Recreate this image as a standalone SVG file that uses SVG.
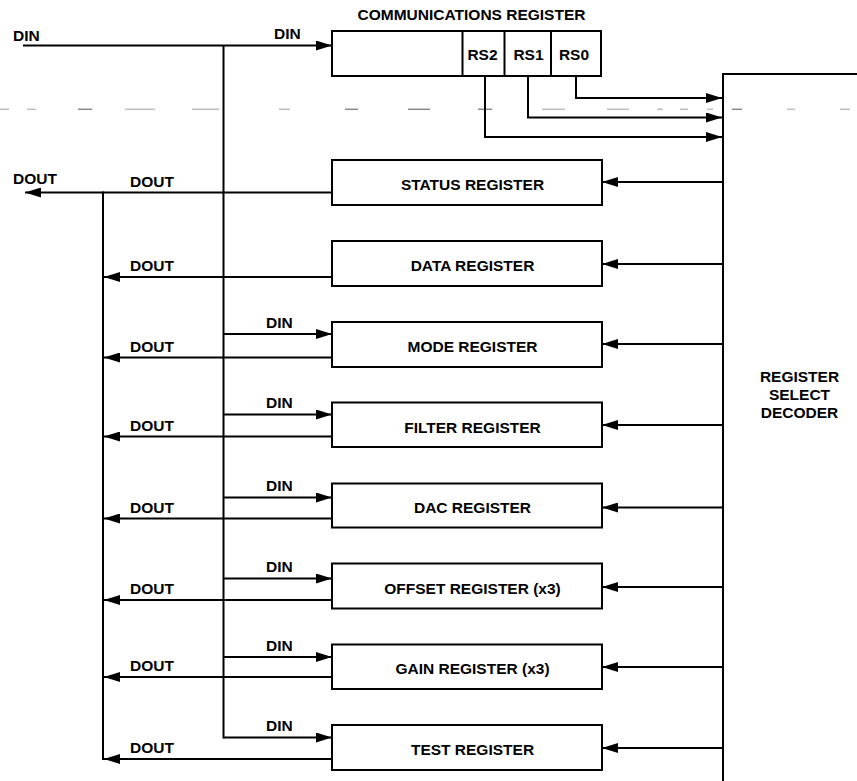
<svg xmlns="http://www.w3.org/2000/svg" width="857" height="781" viewBox="0 0 857 781">
<style>
text{font-family:"Liberation Sans",Arial,sans-serif;font-weight:bold;font-size:15.5px;fill:#000}
.box{fill:#fff;stroke:#000;stroke-width:2}
.w{stroke:#000;stroke-width:2;fill:none}
.a{stroke:#000;stroke-width:2;fill:none;marker-end:url(#ah)}
.mid{text-anchor:middle}
.d1{stroke:#bbb;stroke-width:1.5}
.d2{stroke:#888;stroke-width:1.5}
</style>
<defs>
<marker id="ah" markerUnits="userSpaceOnUse" markerWidth="16" markerHeight="10" refX="16" refY="5" orient="auto">
<path d="M0,0 L16,5 L0,10 z" fill="#000"/>
</marker>
</defs>
<rect width="857" height="781" fill="#fff"/>
<g id="dashline">
<line class="d1" x1="0" y1="109.3" x2="9" y2="109.3"/>
<line class="d1" x1="27" y1="109.3" x2="36" y2="109.3"/>
<line class="d2" x1="78" y1="109.3" x2="92" y2="109.3"/>
<line class="d1" x1="125" y1="109.3" x2="155" y2="109.3"/>
<line class="d1" x1="192" y1="109.3" x2="219" y2="109.3"/>
<line class="d1" x1="279" y1="109.3" x2="290" y2="109.3"/>
<line class="d2" x1="345" y1="109.3" x2="358" y2="109.3"/>
<line class="d2" x1="408" y1="109.3" x2="430" y2="109.3"/>
<line class="d2" x1="478" y1="109.3" x2="492" y2="109.3"/>
<line class="d1" x1="542" y1="109.3" x2="565" y2="109.3"/>
<line class="d1" x1="607" y1="109.3" x2="629" y2="109.3"/>
<line class="d1" x1="657" y1="109.3" x2="663" y2="109.3"/>
<line class="d1" x1="680" y1="109.3" x2="688" y2="109.3"/>
<line class="d1" x1="707" y1="109.3" x2="713" y2="109.3"/>
<line class="d2" x1="732" y1="109.3" x2="742" y2="109.3"/>
<line class="d1" x1="787" y1="109.3" x2="795" y2="109.3"/>
<line class="d1" x1="840" y1="109.3" x2="850" y2="109.3"/>
</g>
<g id="connectors">
<!-- DIN bus -->
<line class="a" x1="23" y1="45.5" x2="332" y2="45.5"/>
<line class="w" x1="223.5" y1="45.5" x2="223.5" y2="738.5"/>
<line class="a" x1="223.5" y1="334" x2="332" y2="334"/>
<line class="a" x1="223.5" y1="414.5" x2="332" y2="414.5"/>
<line class="a" x1="223.5" y1="497.5" x2="332" y2="497.5"/>
<line class="a" x1="223.5" y1="578.5" x2="332" y2="578.5"/>
<line class="a" x1="223.5" y1="657" x2="332" y2="657"/>
<path class="a" d="M223.5,737.5 L332,737.5"/>
<!-- DOUT bus -->
<line class="a" x1="332" y1="192.5" x2="25" y2="192.5"/>
<line class="w" x1="103" y1="191.5" x2="103" y2="760"/>
<line class="a" x1="332" y1="277" x2="104" y2="277"/>
<line class="a" x1="332" y1="357.5" x2="104" y2="357.5"/>
<line class="a" x1="332" y1="436.5" x2="104" y2="436.5"/>
<line class="a" x1="332" y1="518.5" x2="104" y2="518.5"/>
<line class="a" x1="332" y1="600" x2="104" y2="600"/>
<line class="a" x1="332" y1="677" x2="104" y2="677"/>
<line class="a" x1="332" y1="759" x2="104" y2="759"/>
<!-- RS lines -->
<path class="a" d="M576,76 L576,98 L722,98"/>
<path class="a" d="M528,76 L528,117.5 L722,117.5"/>
<path class="a" d="M485,76 L485,137 L722,137"/>
<!-- decoder select lines -->
<line class="a" x1="723" y1="182" x2="602" y2="182"/>
<line class="a" x1="723" y1="264" x2="602" y2="264"/>
<line class="a" x1="723" y1="344" x2="602" y2="344"/>
<line class="a" x1="723" y1="425" x2="602" y2="425"/>
<line class="a" x1="723" y1="507.5" x2="602" y2="507.5"/>
<line class="a" x1="723" y1="587" x2="602" y2="587"/>
<line class="a" x1="723" y1="667" x2="602" y2="667"/>
<line class="a" x1="723" y1="748" x2="602" y2="748"/>
<!-- labels -->
<text x="13" y="40.5">DIN</text>
<text x="274" y="39">DIN</text>
<text x="13" y="184">DOUT</text>
<text x="130" y="187">DOUT</text>
<text x="130" y="271">DOUT</text>
<text x="130" y="351.5">DOUT</text>
<text x="130" y="430.5">DOUT</text>
<text x="130" y="512.5">DOUT</text>
<text x="130" y="594">DOUT</text>
<text x="130" y="671">DOUT</text>
<text x="130" y="753">DOUT</text>
<text x="266" y="327.5">DIN</text>
<text x="266" y="408">DIN</text>
<text x="266" y="491">DIN</text>
<text x="266" y="572">DIN</text>
<text x="266" y="650.5">DIN</text>
<text x="266" y="731">DIN</text>
</g>
<g id="comm-register">
<text x="471.5" y="20" class="mid">COMMUNICATIONS REGISTER</text>
<rect class="box" x="332" y="31" width="269" height="45"/>
<line class="w" x1="462.5" y1="31" x2="462.5" y2="76"/>
<line class="w" x1="504.5" y1="31" x2="504.5" y2="76"/>
<line class="w" x1="551" y1="31" x2="551" y2="76"/>
<text x="482.5" y="60" class="mid">RS2</text>
<text x="528.5" y="60" class="mid">RS1</text>
<text x="574" y="60" class="mid">RS0</text>
</g>
<g id="status-register"><rect class="box" x="332" y="160" width="270" height="45"/><text x="472.5" y="189.5" class="mid">STATUS REGISTER</text></g>
<g id="data-register"><rect class="box" x="332" y="241" width="270" height="45"/><text x="472.5" y="271" class="mid">DATA REGISTER</text></g>
<g id="mode-register"><rect class="box" x="332" y="322" width="270" height="45"/><text x="472.5" y="352" class="mid">MODE REGISTER</text></g>
<g id="filter-register"><rect class="box" x="332" y="402.5" width="270" height="44.5"/><text x="472.5" y="433" class="mid">FILTER REGISTER</text></g>
<g id="dac-register"><rect class="box" x="332" y="483.5" width="270" height="44"/><text x="472.5" y="512.5" class="mid">DAC REGISTER</text></g>
<g id="offset-register"><rect class="box" x="332" y="563.5" width="270" height="45"/><text x="472.5" y="593.5" class="mid">OFFSET REGISTER (x3)</text></g>
<g id="gain-register"><rect class="box" x="332" y="644.5" width="270" height="44.5"/><text x="472.5" y="674" class="mid">GAIN REGISTER (x3)</text></g>
<g id="test-register"><rect class="box" x="332" y="725" width="270" height="45"/><text x="472.5" y="755" class="mid">TEST REGISTER</text></g>
<g id="decoder">
<path class="w" d="M857,74 L723,74 L723,781"/>
<text x="799.5" y="381.5" class="mid">REGISTER</text>
<text x="799.5" y="399.5" class="mid">SELECT</text>
<text x="799.5" y="417.5" class="mid">DECODER</text>
</g>
</svg>
